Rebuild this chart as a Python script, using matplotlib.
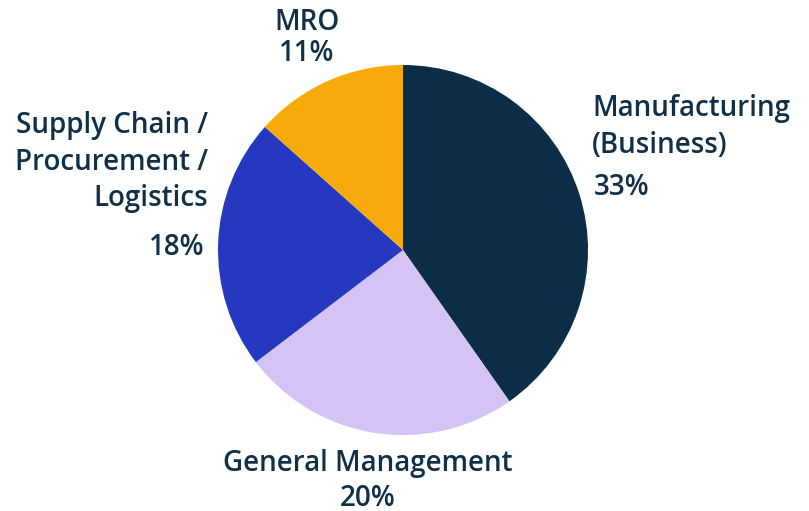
import matplotlib.pyplot as plt

labels = ['Manufacturing\n(Business)', 'General Management', 'Supply Chain /\nProcurement /\nLogistics', 'MRO']
values = [33, 20, 18, 11]
pcts = ['33%', '20%', '18%', '11%']
colors = ['#0b2d48', '#d3c4f5', '#2638c0', '#f7ab0a']

plt.rcParams['font.family'] = ['Open Sans', 'DejaVu Sans']
txt_color = '#10304a'

fig = plt.figure(figsize=(8.09, 5.11), dpi=100)
ax = fig.add_axes([0, 0, 1, 1])

ax.pie(values, colors=colors, startangle=90, counterclock=False,
       center=(403, 261), radius=185, frame=True)
ax.set_xlim(0, 809)
ax.set_ylim(0, 511)
ax.axis('off')

fs = 20
kw = dict(fontsize=fs, fontweight=600, color=txt_color, linespacing=1.36)

# label block centers (pixels from top), alignment
pos = [(592, 127, 'left'), (368, 463, 'center'),
       (208, 162, 'right'), (307, 22, 'center')]
pct_pos = [(594, 187, 'left'), (368, 498, 'center'),
           (204, 247, 'right'), (307, 53, 'center')]

for lab, (x, y, ha) in zip(labels, pos):
    ax.text(x, 511 - y, lab, ha=ha, va='center', multialignment=ha, **kw)
for p, (x, y, ha) in zip(pcts, pct_pos):
    ax.text(x, 511 - y, p, ha=ha, va='center', **kw)

fig.savefig('out.png', dpi=100)
